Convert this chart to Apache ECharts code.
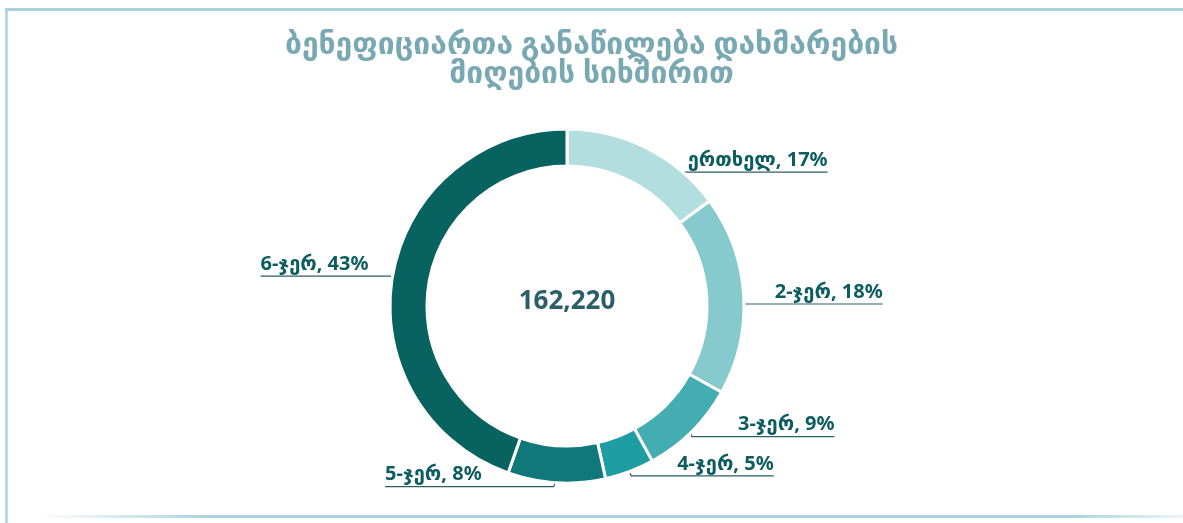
<!DOCTYPE html>
<html>
<head>
<meta charset="utf-8">
<script src="https://cdn.jsdelivr.net/npm/echarts@6/dist/echarts.min.js"></script>
<style>
  html, body { margin: 0; padding: 0; background: #fff; }
  #main { width: 1183px; height: 523px; }
</style>
</head>
<body>
<div id="main"></div>
<script>
// data
var categories = ["ერთხელ", "2-ჯერ", "3-ჯერ", "4-ჯერ", "5-ჯერ", "6-ჯერ"];
// arc shares as drawn in the picture (%)
var arcShares = [14.9, 18.2, 8.9, 4.5, 8.9, 44.6];
// percentages printed on the labels
var labelPercents = [17, 18, 9, 5, 8, 43];
var total = 162220;
var titleText = "ბენეფიციართა განაწილება დახმარების\nმიღების სიხშირით";

var palette = ["#b2dedf", "#86cacd", "#43adb2", "#1e9ea2", "#10777a", "#08625f"];
var fontStack = "'Noto Sans', 'DejaVu Sans', sans-serif";
var pieCenter = [567, 306];
var outerR = 177;

var myChart = echarts.init(document.getElementById("main"));

var pieData = categories.map(function (name, i) {
  return { name: name, value: arcShares[i], pct: labelPercents[i] };
});

myChart.setOption({
  backgroundColor: "#fff",
  color: palette,
  title: {
    text: titleText,
    left: "center",
    top: 26,
    textStyle: {
      color: "#78a8b2",
      fontSize: 30,
      fontWeight: "bold",
      lineHeight: 29,
      fontFamily: fontStack
    }
  },
  graphic: [
    // frame lines
    {
      type: "line",
      shape: { x1: 5, y1: 9.5, x2: 1183, y2: 9.5 },
      style: { stroke: "#a8d0dd", lineWidth: 3 }
    },
    {
      type: "line",
      shape: { x1: 6.5, y1: 9, x2: 6.5, y2: 523 },
      style: { stroke: "#a9d5df", lineWidth: 2.5 }
    },
    {
      type: "line",
      shape: { x1: 40, y1: 516.5, x2: 1183, y2: 516.5 },
      style: {
        lineWidth: 3,
        stroke: new echarts.graphic.LinearGradient(0, 0, 1, 0, [
          { offset: 0, color: "rgba(168,211,223,0)" },
          { offset: 0.15, color: "rgba(168,211,223,1)" },
          { offset: 0.9, color: "rgba(168,211,223,1)" },
          { offset: 1, color: "rgba(168,211,223,0.2)" }
        ])
      }
    },
    // total in the middle
    {
      type: "text",
      x: pieCenter[0],
      y: pieCenter[1] - 4,
      style: {
        text: total.toLocaleString("en-US"),
        fill: "#2a5f68",
        font: "bold 26px " + fontStack,
        align: "center",
        verticalAlign: "middle"
      }
    }
  ],
  series: [
    {
      type: "pie",
      center: pieCenter,
      radius: [140, outerR],
      startAngle: 90,
      clockwise: true,
      avoidLabelOverlap: false,
      itemStyle: {
        borderColor: "#fff",
        borderWidth: 3
      },
      label: {
        show: true,
        position: "outside",
        formatter: function (p) {
          return p.name + ", " + p.data.pct + "%";
        },
        color: "#0d5c5f",
        fontSize: 20,
        fontWeight: "bold",
        fontFamily: fontStack
      },
      labelLine: {
        show: true,
        length: 10,
        length2: 40,
        lineStyle: { color: "#2d5f66", width: 1.2 }
      },
      labelLayout: function (p) {
        var pts = p.labelLinePoints;
        if (!pts) return {};
        var p0 = pts[0];
        var dx = p0[0] - pieCenter[0];
        var dy = p0[1] - pieCenter[1];
        var d = Math.sqrt(dx * dx + dy * dy) || 1;
        var ux = dx / d, uy = dy / d;
        var isRight = p0[0] > pieCenter[0];
        // upper-left leader starts on the ring edge, the others inside the ring with a small tick
        var tickless = !isRight && uy < 0;
        var inset = tickless ? 0 : (uy < 0 ? 18 : 4);
        var tick = tickless ? 0 : 8;
        var start = [p0[0] - ux * inset, p0[1] - uy * inset];
        var elbow = [start[0] + (tickless ? 0 : (isRight ? 3 : -3)), start[1] + tick];
        var w = p.labelRect.width;
        var gap = tickless ? 24 : (isRight ? 46 : 72);
        var endX = isRight ? elbow[0] + gap + w : elbow[0] - gap - w;
        return {
          x: endX,
          y: elbow[1] - 2,
          align: isRight ? "right" : "left",
          verticalAlign: "bottom",
          labelLinePoints: [start, elbow, [endX, elbow[1]]]
        };
      },
      data: pieData
    }
  ]
});
</script>
</body>
</html>
